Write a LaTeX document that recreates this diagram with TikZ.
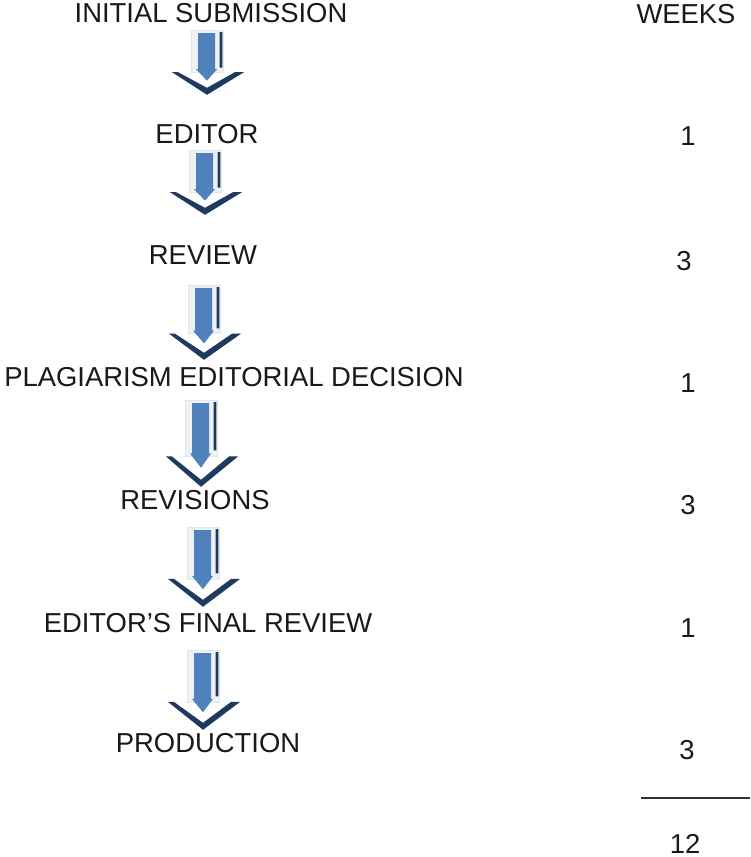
\documentclass[tikz,border=0pt]{standalone}
\usepackage{fontspec}
\setmainfont{Liberation Sans}
\usepackage{tikz}
\usetikzlibrary{calc}
\definecolor{arrowblue}{HTML}{4F81BD}
\definecolor{arrownavy}{HTML}{1F3A5F}
\definecolor{arrowpale}{HTML}{EEF2F7}

\begin{document}
\begin{tikzpicture}[x=0.02cm, y=-0.02cm,
    stage/.style={font=\fontsize{15.6}{18}\selectfont, text=black!90,
                  inner sep=0pt, text height=11.2pt, text depth=0pt},
    weeks/.style={stage}]
  \useasboundingbox (0,0) rectangle (750,857);
  % the stages, top to bottom
  \node[stage] (init)   at (211,13)  {INITIAL SUBMISSION};
  \node[stage] (editor) at (207,134) {EDITOR};
  \node[stage] (review) at (203,255) {REVIEW};
  \node[stage] (plag)   at (234,377) {PLAGIARISM EDITORIAL DECISION};
  \node[stage] (revis)  at (195,500) {REVISIONS};
  \node[stage] (final)  at (208,623) {EDITOR’S FINAL REVIEW};
  \node[stage] (prod)   at (208,743) {PRODUCTION};
  % the time each stage takes
  \node[weeks] (wk)  at (686,14)  {WEEKS};
  \node[weeks] (w1)  at (688,136) {1};
  \node[weeks] (w2)  at (684,261) {3};
  \node[weeks] (w3)  at (688,383) {1};
  \node[weeks] (w4)  at (688,505) {3};
  \node[weeks] (w5)  at (688,628) {1};
  \node[weeks] (w6)  at (687,750) {3};
  \draw[black!80, line width=0.7pt] (641,798) -- (750,798);
  \node[weeks] (tot) at (685,844) {12};
  % block arrows, each from one stage down to the next
  \foreach \sa/\sb/\cx/\gt/\gb in {%
      init/editor/207/7/29,
      editor/review/205/6/30,
      review/plag/204/20/7,
      plag/revis/201/13/3,
      revis/final/203/17/6,
      final/prod/203/17/3}{
    \coordinate (t) at ($(\cx,0 |- \sa.south)+(0,\gt)$);
    \coordinate (b) at ($(\cx,0 |- \sb.north)+(0,-\gb)$);
    \coordinate (h) at ($(t)!0.65!(b)$);
    \coordinate (k) at ($(t)!0.78!(b)$);
    \fill[white] ($(h)+(-34,0)$) -- (b) -- ($(h)+(34,0)$) -- cycle;
    \filldraw[fill=arrowpale, draw=black!10] ($(t)+(-16,0)$) rectangle ($(h)+(16,0)$);
    \fill[arrowblue] ($(t)+(-9,3)$) -- ($(t)+(8,3)$) -- ($(h)+(8,-3)$)
      -- ($(h)+(10,-3)$) -- (k) -- ($(h)+(-11,-3)$) -- ($(h)+(-9,-3)$) -- cycle;
    \draw[arrownavy, line width=1.7pt] ($(t)+(14,2)$) -- ($(t)!0.58!(b)+(14,0)$);
    \fill[arrownavy] ($(h)+(-35,0)$) -- (b) -- ($(h)+(37,0)$) -- ($(h)+(28,0)$)
      -- ($(b)+(0,-7)$) -- ($(h)+(-29,0)$) -- cycle;}
\end{tikzpicture}
\end{document}
